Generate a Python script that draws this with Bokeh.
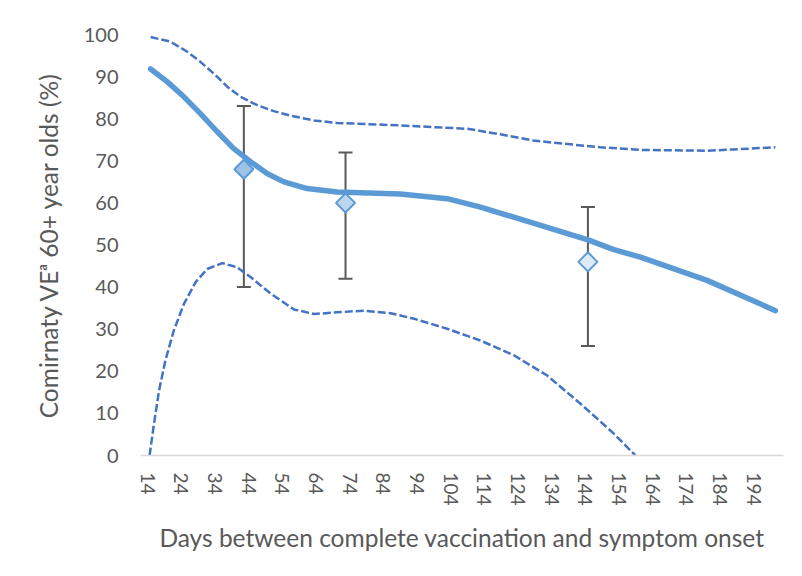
from bokeh.plotting import figure
from bokeh.models import Range1d, FixedTicker, ColumnDataSource, Whisker
from bokeh.embed import file_html
from bokeh.resources import INLINE
from math import pi

# Fitted VE curve (days, %)
fit_days = [14.9, 19.8, 24.8, 29.7, 34.7, 39.6, 44.6, 49.5, 54.5, 61.4, 70.3,
            89.1, 103, 112.9, 122.8, 132.7, 144.8, 152.5, 160.4, 180.2, 200.5]
fit_ve = [91.8, 88.8, 85.2, 81.2, 76.9, 72.9, 69.8, 67.0, 65.0, 63.4, 62.6,
          62.1, 61.0, 59.0, 56.6, 54.2, 51.2, 48.9, 47.1, 41.6, 34.4]

# Upper confidence band
upper_days = [14.9, 20.8, 25.8, 29.7, 33.7, 37.7, 41.6, 46.6, 51.5, 56.5, 63.4,
              70.3, 89.1, 109, 118.8, 128.6, 148.5, 160.4, 168.3, 180.2, 188,
              200.5]
upper_ve = [99.4, 98.3, 95.9, 93.5, 90.7, 87.6, 85.2, 83.2, 81.8, 80.7, 79.6,
            79.0, 78.4, 77.6, 76.3, 74.8, 73.2, 72.6, 72.5, 72.4, 72.7, 73.2]

# Lower confidence band
lower_days = [14.6, 15.9, 17.4, 19.3, 21.8, 24.8, 28.3, 31.7, 36.2, 40.6, 44.6,
              47.6, 50.5, 57.5, 63.4, 70.3, 78.2, 86.2, 93.1, 103, 112.9, 122.8,
              132.7, 142.6, 152.5, 158.9]
lower_ve = [0, 7.5, 15.4, 22.6, 29.7, 36.0, 41.2, 44.3, 45.7, 44.7, 42.4,
            40.4, 38.5, 34.7, 33.6, 34.0, 34.4, 33.8, 32.5, 30.1, 27.3, 23.8,
            19.0, 12.3, 5.2, 0]

# Point estimates with 95% CI
pt_days = [42.6, 72.8, 144.8]
pt_ve = [68, 60, 46]
pt_lo = [40, 42, 26]
pt_hi = [83, 72, 59]
pt_fill = ["#9dc3e6", "#bdd7ee", "#deebf7"]

x_ticks = [14, 24, 34, 44, 54, 64, 74, 84, 94, 104, 114, 124, 134, 144, 154,
           164, 174, 184, 194]
y_ticks = [0, 10, 20, 30, 40, 50, 60, 70, 80, 90, 100]

FONT = "Lato"
TXT = "#595959"

p = figure(width=802, height=576, output_backend="svg", toolbar_location=None,
           x_range=Range1d(11.9, 202.9), y_range=Range1d(0, 100),
           min_border_left=140, min_border_right=19, min_border_top=34,
           min_border_bottom=121)
p.outline_line_color = None
p.xgrid.visible = False
p.ygrid.visible = False

p.line(upper_days, upper_ve, line_color="#4472c4", line_width=2.5,
       line_dash="8 3", line_join="round")
p.line(lower_days, lower_ve, line_color="#4472c4", line_width=2.5,
       line_dash="8 3", line_join="round")

src = ColumnDataSource(dict(x=pt_days, y=pt_ve, lo=pt_lo, hi=pt_hi, fill=pt_fill))
w = Whisker(base="x", lower="lo", upper="hi", source=src, dimension="height",
            line_color="#595959", line_width=2)
w.upper_head.size = 14
w.lower_head.size = 14
w.upper_head.line_color = "#595959"
w.lower_head.line_color = "#595959"
w.upper_head.line_width = 2
w.lower_head.line_width = 2
p.add_layout(w)

p.line(fit_days, fit_ve, line_color="#5b9bd5", line_width=5.5,
       line_cap="round", line_join="round")

p.scatter("x", "y", source=src, marker="square", size=13.5, angle=pi / 4,
          fill_color="fill", line_color="#5b9bd5", line_width=2)

xa = p.xaxis[0]
xa.ticker = FixedTicker(ticks=x_ticks)
xa.major_label_orientation = "vertical"
xa.axis_line_color = "#d9d9d9"
xa.axis_line_width = 1.5
xa.major_tick_line_color = None
xa.minor_tick_line_color = None
xa.major_tick_in = 0
xa.major_tick_out = 0
xa.major_label_standoff = 17
xa.major_label_text_font = FONT
xa.major_label_text_font_size = "19px"
xa.major_label_text_color = TXT
xa.axis_label = "Days between complete vaccination and symptom onset"
xa.axis_label_text_font = FONT
xa.axis_label_text_font_size = "24.5px"
xa.axis_label_text_font_style = "normal"
xa.axis_label_text_color = TXT
xa.axis_label_standoff = 14

ya = p.yaxis[0]
ya.ticker = FixedTicker(ticks=y_ticks)
ya.axis_line_color = None
ya.major_tick_line_color = None
ya.minor_tick_line_color = None
ya.major_tick_in = 0
ya.major_tick_out = 0
ya.major_label_standoff = 22
ya.major_label_text_font = FONT
ya.major_label_text_font_size = "20px"
ya.major_label_text_color = TXT
ya.axis_label = "Comirnaty VEᵃ 60+ year olds (%)"
ya.axis_label_text_font = FONT
ya.axis_label_text_font_size = "24.5px"
ya.axis_label_text_font_style = "normal"
ya.axis_label_text_color = TXT
ya.axis_label_standoff = 18

open("out.html", "w").write(file_html(p, INLINE))
